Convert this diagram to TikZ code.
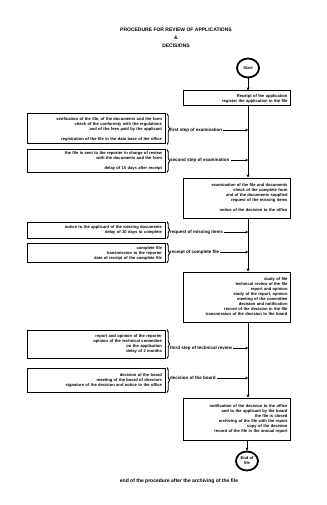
\documentclass[tikz,border=0pt]{standalone}
\usepackage{fontspec}
\setmainfont{Liberation Sans}
\usetikzlibrary{shapes.geometric,arrows.meta,decorations.pathreplacing}
\begin{document}
\begin{tikzpicture}[x=1pt,y=-1pt,
  every node/.style={inner sep=1pt,font=\fontsize{4.1}{5}\selectfont\bfseries},
  mainbox/.style={draw,line width=1pt,minimum width=107pt,align=right,text width=102pt},
  sidebox/.style={draw,line width=1pt,minimum width=138pt,align=right,text width=132pt},
  term/.style={ellipse,draw,line width=1.8pt,minimum width=22pt,minimum height=19pt,inner sep=0pt,align=center},
  flow/.style={line width=1pt,-{Stealth[length=3pt,width=3pt]}},
  lab/.style={anchor=west,font=\fontsize{4.5}{5}\selectfont\bfseries},
  brc/.style={line width=0.9pt,decorate,decoration={brace,amplitude=2.5pt}}]
\useasboundingbox (0,0) rectangle (326,505);
% title
\node (title) at (176,38) [align=center,font=\fontsize{5}{8}\selectfont\bfseries]
  {PROCEDURE FOR REVIEW OF APPLICATIONS\\\&\\DECISIONS};
% terminals
\node[term] (start) at (248,68) {Start};
\node[term] (end) at (247,461) {End of\\file};
% main boxes
\node[mainbox,minimum height=15pt] (b1) at (236.5,98.5) {Receipt of the application\\register the application in the file};
\node[mainbox,minimum height=40pt] (b3) at (236.5,198) {examination of the file and documents\\check of the complete form\\and of the documents supplied\\request of the missing items\\\hfill\\notice of the decision to the office};
\node[mainbox,minimum height=50pt] (b4) at (236.5,297) {study of file\\technical review of the file\\report and opinion\\study of the report, opinion\\meeting of the committee\\decision and notification\\record of the decision in the file\\transmission of the decision to the board};
\node[mainbox,minimum height=42pt] (b5) at (236.5,419) {notification of the decision to the office\\and to the applicant by the board\\the file is closed\\archiving of the file with the report\\copy of the decision\\record of the file in the annual report};
% side boxes
\node[sidebox,minimum height=30pt] (sa) at (96,129) {verification of the file, of the documents and the form\\check of the conformity with the regulations\\and of the fees paid by the applicant\\\hfill\\registration of the file in the data base of the office};
\node[sidebox,minimum height=22pt] (sb) at (96,161) {the file is sent to the reporter in charge of review\\with the documents and the form\\\hfill\\delay of 15 days after receipt};
\node[sidebox,minimum height=16pt] (sc) at (96,230) {notice to the applicant of the missing documents\\delay of 30 days to complete};
\node[sidebox,minimum height=19pt] (sd) at (96,253) {complete file\\transmission to the reporter\\date of receipt of the complete file};
\node[sidebox,minimum height=28pt] (se) at (96,344) {report and opinion of the reporter\\opinion of the technical committee\\on the application\\delay of 2 months};
\node[sidebox,minimum height=24pt] (sf) at (96,380) {decision of the board\\meeting of the board of directors\\signature of the decision and notice to the office};
% braces
\foreach \n in {sa,sb,sc,sd,se,sf}
  \draw[brc] ([xshift=1.5pt]\n.north east) -- ([xshift=1.5pt]\n.south east);
% labels
\node[lab] (la) at (169,130) {first step of examination};
\node[lab] (lb) at (169,160) {second step of examination};
\node[lab] (lc) at (169,232) {request of missing items};
\node[lab] (ld) at (169,252) {receipt of complete file};
\node[lab] (le) at (169,348) {third step of technical review};
\node[lab] (lf) at (169,378) {decision of the board};
% main flow
\draw[flow] (start) -- (b1.north -| start);
\draw[flow] (b1.south -| start) -- (b3.north -| start);
\draw[flow] (b3.south -| start) -- (b4.north -| start);
\draw[flow] (b4.south -| start) -- (b5.north -| start);
\draw[flow] (b5.south -| end) -- (end);
% label arrows to main line
\foreach \n in {la,lb,lc,ld,le,lf}
  \draw[line width=0.7pt,-{Stealth[length=2.5pt,width=2.5pt]}] (\n.east) -- (\n.east -| start);
% caption
\node (cap) at (179,481) [font=\fontsize{5}{6}\selectfont\bfseries] {end of the procedure after the archiving of the file};
\end{tikzpicture}
\end{document}
